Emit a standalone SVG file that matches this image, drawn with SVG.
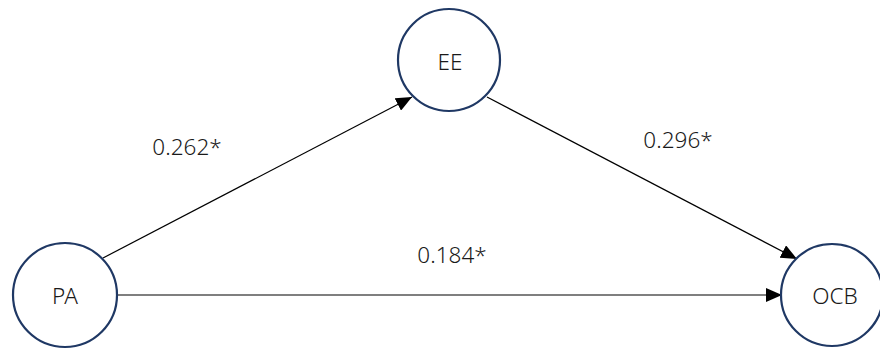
<svg xmlns="http://www.w3.org/2000/svg" width="880" height="349" viewBox="0 0 880 349">
<style>
.node circle{fill:#fff;stroke:#1f3864;stroke-width:2.2}
text{font-family:"Noto Sans","Open Sans",sans-serif;font-size:22.5px;font-weight:300;fill:#1a1a1a}
.lbl{text-anchor:middle}
.edge{stroke:#000;stroke-width:1.2;fill:none;marker-end:url(#arr)}
</style>
<defs>
<marker id="arr" markerUnits="userSpaceOnUse" markerWidth="16" markerHeight="14" viewBox="0 0 16 14" refX="16" refY="7" orient="auto">
<path d="M0,0 L16,7 L0,14 Z" fill="#000"/>
</marker>
</defs>
<rect width="880" height="349" fill="#fff"/>
<g id="connectors">
<line class="edge" x1="103" y1="258" x2="412" y2="97"/>
<line class="edge" x1="487" y1="97" x2="797" y2="259"/>
<line class="edge" x1="118" y1="295" x2="782" y2="295"/>
</g>
<g id="node-EE" class="node">
<circle cx="449" cy="60" r="51"/>
<text x="450" y="70" class="lbl">EE</text>
</g>
<g id="node-PA" class="node">
<circle cx="65" cy="295" r="52"/>
<text x="65" y="304" class="lbl">PA</text>
</g>
<g id="node-OCB" class="node">
<circle cx="832" cy="295" r="51"/>
<text x="835" y="304" class="lbl">OCB</text>
</g>
<g id="labels">
<text x="187" y="155" class="lbl">0.262*</text>
<text x="678" y="148" class="lbl">0.296*</text>
<text x="452" y="263" class="lbl">0.184*</text>
</g>
</svg>
